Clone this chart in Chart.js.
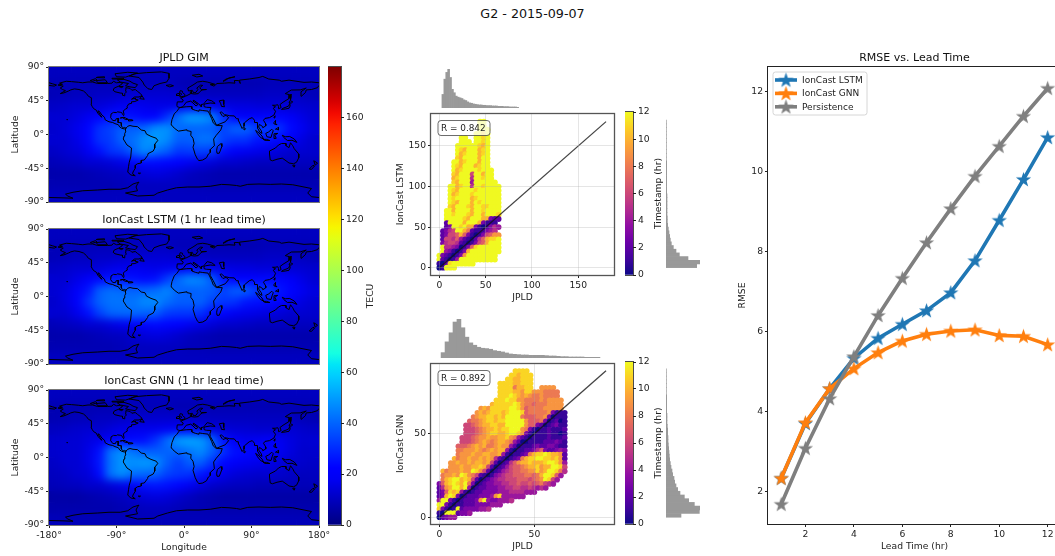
<!DOCTYPE html>
<html>
<head>
<meta charset="utf-8">
<script src="https://cdn.jsdelivr.net/npm/chart.js@4/dist/chart.umd.js"></script>
<style>
  html, body { margin: 0; padding: 0; background: #fff; overflow: hidden; width: 1055px; height: 556px; }
  canvas { position: absolute; }
  #figTitle { position: absolute; left: 0; width: 1065px; top: 6px; text-align: center; font: 12.7px "DejaVu Sans"; color: #111; }
</style>
</head>
<body>
<div id="figTitle">G2 - 2015-09-07</div>
<script>
// ---- data ----

// TEC maps: rows run north to south (lat 82.5 .. -82.5), columns west to east (lon -172.5 .. 172.5)
const gridLats = [82.5, 67.5, 52.5, 37.5, 22.5, 7.5, -7.5, -22.5, -37.5, -52.5, -67.5, -82.5];
const gridLons = [-172.5, -157.5, -142.5, -127.5, -112.5, -97.5, -82.5, -67.5, -52.5, -37.5, -22.5, -7.5, 7.5, 22.5, 37.5, 52.5, 67.5, 82.5, 97.5, 112.5, 127.5, 142.5, 157.5, 172.5];

const gimRows = [
  [10,10,10,10,10,10,10,10,10,10,10,10,10,10,10,10,10,10,10,10,10,10,10,10],
  [9,9,9,9,9,9,9,10,10,10,10,9,8,8,8,8,8,8,8,9,9,9,9,9],
  [9,9,10,10,11,11,12,13,13,13,13,12,11,10,10,10,10,10,10,11,11,11,10,9],
  [11,12,13,13,14,16,18,18,17,16,16,17,18,18,17,16,15,15,14,14,14,13,13,12],
  [13,13,15,18,23,26,26,25,23,23,31,42,50,50,46,31,23,19,22,23,23,19,16,13],
  [12,14,17,23,31,34,39,39,41,48,48,41,40,40,39,34,40,40,34,33,31,24,18,14],
  [13,13,16,23,31,33,40,42,48,50,47,39,39,43,43,34,31,31,26,25,23,19,15,12],
  [11,13,14,18,25,31,33,40,47,43,39,32,33,34,33,25,19,18,17,16,14,12,13,12],
  [9,10,11,13,13,14,16,19,24,24,23,22,18,16,14,12,12,11,10,10,10,10,10,10],
  [7,7,7,8,9,10,10,12,14,15,14,12,10,9,8,7,7,7,7,7,7,7,7,7],
  [8,8,8,8,8,8,9,10,10,10,10,10,9,9,8,8,8,8,8,8,8,8,8,8],
  [10,10,10,10,10,10,10,10,10,10,10,10,10,10,10,10,10,10,10,10,10,10,10,10]
];
const lstmRows = [
  [10,10,10,10,10,10,10,10,10,10,10,10,10,10,10,10,10,10,10,10,10,10,10,10],
  [9,9,9,9,9,9,10,10,10,10,10,9,9,8,8,8,8,8,8,9,9,9,9,9],
  [9,9,10,10,11,11,12,13,13,13,13,12,11,11,10,10,10,10,10,11,11,11,10,9],
  [11,12,13,13,14,16,17,18,17,16,17,18,19,18,17,16,15,15,14,14,14,13,13,12],
  [13,13,16,19,24,26,26,25,24,25,33,41,47,46,39,26,23,22,23,24,23,19,16,13],
  [13,15,19,26,39,42,41,40,40,42,46,40,39,40,39,34,39,39,33,32,26,23,18,15],
  [12,15,19,31,40,43,43,43,47,47,42,39,39,40,34,32,31,26,25,24,22,18,15,13],
  [13,13,17,25,34,40,41,41,40,39,33,32,32,31,25,23,18,17,16,15,14,12,13,12],
  [9,10,11,13,13,15,17,19,23,24,23,22,18,16,14,12,12,11,10,10,10,10,10,10],
  [7,7,7,8,9,10,10,12,14,15,14,12,10,9,8,7,7,7,7,7,7,7,7,7],
  [8,8,8,8,8,8,9,10,10,10,10,10,9,9,8,8,8,8,8,8,8,8,8,8],
  [10,10,10,10,10,10,10,10,10,10,10,10,10,10,10,10,10,10,10,10,10,10,10,10]
];
const gnnRows = [
  [10,10,10,10,10,10,10,10,10,10,10,10,10,10,10,10,10,10,10,10,10,10,10,10],
  [8,8,8,8,8,8,9,9,9,9,9,8,8,8,8,8,8,8,8,8,8,8,8,8],
  [8,8,9,9,10,10,11,12,12,12,12,12,11,10,10,10,10,10,10,10,10,10,9,8],
  [10,11,12,13,12,14,16,17,17,17,18,19,19,17,15,14,13,13,12,12,12,13,12,11],
  [12,13,13,15,17,19,23,24,25,31,41,50,52,50,41,26,19,17,18,19,18,15,13,13],
  [12,13,13,16,25,43,48,43,39,39,40,40,43,47,40,31,25,24,23,22,18,15,12,12],
  [11,13,13,16,26,43,49,48,50,48,39,33,39,39,31,23,19,18,17,16,14,12,12,11],
  [10,11,13,14,24,43,48,42,41,40,34,32,31,26,23,17,14,13,12,13,12,11,10,10],
  [9,10,10,12,12,14,16,19,25,26,25,23,18,15,12,11,10,10,9,9,9,9,9,9],
  [6,6,6,7,8,9,10,12,14,15,14,12,10,8,7,6,6,6,6,6,6,6,6,6],
  [7,7,7,7,7,7,8,9,10,10,10,9,8,8,7,7,7,7,7,7,7,7,7,7],
  [9,9,9,9,9,9,9,9,9,9,9,9,9,9,9,9,9,9,9,9,9,9,9,9]
];

// coastlines as [lon, lat] polylines
const coastlines = [
  [[-168,66],[-162,67],[-166,68.5],[-157,71],[-150,70.5],[-141,69.7],[-135,69],[-128,70],[-122,70],[-115,68],[-108,68],[-102,68],[-96,68.5],[-94,71],[-90,69],[-85,69.5],[-82,68],[-87,64.5],[-93,62],[-94.5,59],[-92,57],[-85,55.3],[-82,55],[-82,52.5],[-79,51.5],[-79,54.5],[-77,56.5],[-78,59],[-77.5,62.5],[-72,61.5],[-69.5,59],[-65,60],[-62,57.5],[-58,54.5],[-56,52],[-60,50],[-66,50],[-70,47],[-65,48.5],[-65,47],[-61,46],[-65.5,44],[-70,43.5],[-70,41.7],[-74,40.5],[-76,37],[-75.5,35.3],[-78,33.8],[-81,31.5],[-80,27],[-80.5,25.2],[-82,27],[-83,29.2],[-85,29.7],[-89,30.2],[-90,29.2],[-94,29.5],[-97.2,27.5],[-97.8,22.5],[-95,18.7],[-91.5,18.5],[-90.5,21],[-87,21.5],[-88,16],[-84,15.8],[-83.5,11],[-81,9],[-79.5,9.5],[-77.3,8.5],[-78,7.3],[-80,7.5],[-83,8.3],[-85.7,10],[-87.5,13],[-92,14.5],[-95,16],[-100,17],[-105,19.5],[-106,23],[-109.5,26],[-113,31],[-114.8,31.5],[-112,26.5],[-109.5,23],[-112,25],[-115,28.5],[-117,32.5],[-120.5,34.5],[-122.5,37.5],[-124,40.5],[-124,46],[-123,49],[-127.5,51],[-130,54.5],[-134,58],[-140,60],[-146,60.8],[-151,59.5],[-154,58],[-160,55.5],[-165,54.5],[-158,58.5],[-162,60],[-165,62],[-161,64.5],[-168,66]],
  [[-73,78],[-66,81],[-50,82.5],[-30,83.5],[-20,81.5],[-20,75],[-23,70],[-32,68],[-40,65],[-43,60],[-48,61],[-53,66],[-55,70],[-60,76],[-73,78]],
  [[-80,73.5],[-72,71],[-68,68.5],[-62,66.5],[-65,62.5],[-72,63.5],[-78,65],[-74,68],[-85,70],[-89,73],[-80,73.5]],
  [[-117,72],[-105,73],[-102,69],[-115,69],[-117,72]],
  [[-90,77],[-78,76.5],[-62,82],[-75,83],[-92,81],[-90,77]],
  [[-125,72],[-118,74.5],[-116,73],[-122,71],[-125,72]],
  [[-96,75],[-80,75],[-82,74],[-95,74],[-96,75]],
  [[-117,76],[-106,75.5],[-106,77],[-115,76.5],[-117,76]],
  [[-87,64],[-81,64],[-83,62.5],[-87,64]],
  [[-59,47.8],[-56,51.5],[-53,47],[-59,47.8]],
  [[-85,22],[-80,23],[-74.3,20.2],[-78,20],[-82,22.5],[-85,22]],
  [[-74,19.8],[-69,19.5],[-68.5,18.5],[-74,18],[-74,19.8]],
  [[-156,20.5],[-155,19.2],[-156,19.5],[-156,20.5]],
  [[-77.3,8.5],[-75,11],[-72,12],[-68,11],[-62,10.5],[-57,6],[-52,5],[-50,0.5],[-44,-2.5],[-37,-5],[-35,-8],[-39,-13],[-39,-18],[-41,-22],[-48,-25.5],[-48.5,-28],[-53,-34],[-57,-34.5],[-57,-38],[-62,-39],[-65,-41],[-65,-45],[-68,-50],[-68.5,-52.5],[-65,-55],[-71,-54],[-75,-50],[-74,-43],[-73,-37],[-71,-30],[-70,-18],[-76,-14],[-81,-6],[-80,-2],[-79,1.5],[-77.5,4],[-78,7.3],[-77.3,8.5]],
  [[-61,-51.5],[-58,-51.5],[-59,-52.3],[-61,-51.5]],
  [[-6,35.8],[3,37],[10,37.3],[10.5,34],[15,32.3],[20,31],[20,32.8],[25,32],[32,31.2],[34,27.5],[37,21],[39,15.5],[43,12],[51,11.8],[49,6],[43,-1],[39.5,-6],[40.5,-15],[35,-20],[35,-24],[32.5,-26],[30,-31],[25,-34],[20,-34.8],[18,-33],[15,-27],[12,-17],[13.5,-12],[12,-5],[9,-1],[9.5,4],[5,5],[4,6.3],[-4,5],[-7.5,4.5],[-13,8.5],[-16.5,12.5],[-17,15],[-16,20],[-13,27.5],[-9.5,31],[-6,35.8]],
  [[49.5,-12],[50.5,-16],[47,-25],[44,-25],[43.5,-21],[44.5,-16],[49.5,-12]],
  [[-9,37],[-9.5,39],[-9,43.5],[-2,43.5],[-1,46],[-4.5,48.5],[2,51],[4,52],[8,54],[8.5,57],[10.5,57.5],[10,54.5],[14,54],[19,54.5],[21,57],[24,59.3],[30,60],[23,60],[21,62.5],[25,65.5],[22,65.8],[17,62],[18.5,60],[16,56.3],[13,55.5],[11,59],[6,58],[5,62],[12,66],[18,70],[25,71],[31,70],[41,67],[35,66.5],[40,64.5],[44,68],[54,68.5],[60,69],[68,68.5],[67,72],[73,72],[75,68],[74,72.5],[87,74],[100,76],[105,77.5],[113,74],[127,72.5],[130,71],[140,72.5],[160,69.5],[170,70],[180,69]],
  [[-180,69],[-175,67.5],[-170,66],[-173,64.5],[-180,65.5]],
  [[180,65.5],[178,62.5],[170,60],[163,59.5],[162,56],[156.5,51],[156,57],[163,62],[155,59.5],[143,59.3],[135,54.5],[141,53],[140,48],[132,43],[128,40],[129.5,36],[126.5,34.5],[126,37.5],[125,39.7],[121.5,39],[118,39],[122,37],[119,35],[122,31],[120,26],[114,22.5],[108,21.5],[106,19],[109,14],[109,11.5],[105,9],[105,10.5],[100.5,13.5],[99.5,10],[103,5],[104,1.5],[101,3],[98.5,8],[98,16],[94.5,16],[94,19],[91,22.5],[87,21],[80.5,15.5],[80,11],[77.5,8],[73,18],[72.5,21],[70,21],[67,24.8],[61,25],[57,26],[54,26.5],[50,30],[48,29.5],[51,25],[52,24],[56,25.5],[59.5,22.5],[55,17],[45,13],[43,13],[39,21],[35,28],[34.5,31.5],[36,36],[30,36.3],[27,37],[26.5,40],[29,41],[35,42],[41.5,41.5],[37,45],[31,46.5],[28,43],[26,40.5],[23,40],[23,37],[19.5,41],[13,45.5],[12.5,44],[18.5,40],[16,38],[12,42],[9,44.5],[3,43],[0,39],[-2,36.8],[-5.5,36],[-9,37]],
  [[47,45],[53,46],[53,40],[54,37],[50,37.5],[49,41],[47,45]],
  [[-5.5,50],[1,51.2],[1.5,53],[-2,56],[-2,57.7],[-5,58.5],[-6,56],[-3,54],[-5,52],[-5.5,50]],
  [[-10,52],[-6,52],[-6,55],[-10,54],[-10,52]],
  [[-24,65.5],[-18,66.3],[-14,65],[-19,63.5],[-24,65.5]],
  [[11,79],[20,80.3],[25,78],[17,76.7],[11,79]],
  [[52,71],[56,74],[68,77],[60,75.5],[55,72],[52,71]],
  [[130,33.5],[135,34],[140,35],[141.5,38],[141,41.3],[139.5,38],[136,36.5],[132,35],[130,33.5]],
  [[140,42],[141.5,45.3],[145,43.5],[143,42],[140,42]],
  [[142,46],[143,50],[143,54],[142,53],[142,46]],
  [[120,23],[121.5,25],[121,22],[120,23]],
  [[120,16],[122,18.5],[122,15],[124,13],[120.5,14],[120,16]],
  [[122,7],[126,9.5],[126,6],[123.5,7],[122,7]],
  [[80,9.5],[82,7.5],[80.5,6],[80,9.5]],
  [[95.5,5.5],[100,2],[104,-2],[106,-6],[102,-4],[98,1],[95.5,5.5]],
  [[105.5,-6.5],[110,-6.5],[114.5,-8],[108,-7.8],[105.5,-6.5]],
  [[109,1.5],[113,3.5],[117,7],[119,5],[117.5,1],[116,-4],[110.5,-3],[109,1.5]],
  [[120,1],[125,1.5],[121,-1],[123,-5],[120,-5.5],[120,1]],
  [[131,-1],[135,-3],[141,-2.7],[147,-6],[150.5,-10.5],[144,-7.7],[138,-8],[133,-4],[131,-1]],
  [[114,-22],[122,-18],[126,-14],[130,-12],[136,-12],[136,-15],[140,-17.5],[142,-11],[145,-15],[147,-19],[153,-26],[153,-31],[150,-37],[146,-39],[140,-38],[136,-35],[131,-31.5],[124,-33],[118,-35],[115,-34],[114,-26],[114,-22]],
  [[145,-41],[148,-41],[147,-43.5],[145.5,-42.5],[145,-41]],
  [[173,-35],[178,-38],[175,-41],[174,-38],[173,-35]],
  [[172,-41],[174,-42],[170,-46.5],[167,-46],[172,-41]],
  [[-180,-84],[-160,-84.5],[-148,-85],[-155,-82],[-158,-79.5],[-148,-77],[-135,-75],[-115,-74],[-100,-73],[-85,-73],[-75,-71],[-68,-66],[-60,-63.5],[-62,-66],[-64,-70],[-62,-75],[-78,-78],[-62,-82],[-40,-81],[-35,-78],[-22,-74],[-10,-71],[5,-70],[20,-70],[35,-69],[50,-66.5],[60,-67],[70,-68],[75,-69],[85,-66.5],[100,-66],[115,-66.5],[130,-66],[145,-67],[160,-70],[170,-72],[165,-78],[170,-83],[180,-84]]
];

// hexbin cells: one character per cell, base 13 timestamp in hours, '.' = empty cell
const lstmCells = [
  "...........cc","...........cc","...........ccc","..........ccbc","......cc..ccbc","......ccc.ccbc",
  ".....ccccccbac",".....cbacccabc",".....cabcccabc",".....baccccacc","....ccabcccacc","....cbacccabcc",
  "....cabccccbccc","....baccc6ccacc","....abccc5ccbcc","....baccc4cccccc","...ccabcc5ccbcccc","...cbaccccbcccccc",
  "...cabcccbccccccc","...cbccccabcccccc","...cbacccacbccccc","...bacccbaccbbccc","..ccaccccaccbcccc","..ccbcccbaccacccb",
  "..cccccbacccaa322","..2ccccaccca3111","..23ccbcaa3101354",".2356cca82111345",".23667a7310136799",".266574210257abbc",
  ".356652101367accc",".c55430137bcccccc",".c431013acccccccc","c3210139cccccccc","c21014cccccccccc","102bcccccc","01ccc"
];
const gnnCells = [
  "....................bbbb","...................bbabbb","..................bbaabbb","................bbbbaabbb",
  "................bbbb8aabb..9999","................bbbbaa9bb9998888","................bbbcba9a98898888","...............bbbcbb998888989999",
  "..............abbbbbcb98878889999","...........9a9bbbbbccb97888899999","..........9a9abbbabcccb78888893111",".........89aabbabacccc877788930111",
  "........7889abbabbccccc97778301201",".......66789aabbaaccccc97732012311",".......666789aababbccc983101121112",".......666789abbaabccb931011121101",
  "......6667899a99aab984210111121112","......666789a989aa9842001111222321",".....77789a9a889a99420111232233211",".....88999a989a9aa4101122357322343",
  ".....8999a99aa99a41011238abbcbaa92","....a899a99a9a952101238abbccbbab92","...99a99a9aa9a62012579aabaaabccb94","...999a99aaba62012467789aab9aaccb6",
  ".a8999a99cb962012456778899b9accb85",".899a9cb9862101345667778878accb74",".8abccaba6201234556667776789cb64","37abcbac83012334455667667678654",
  "259accac401223334455665565454","237bab41012233334445555444","23acb30122233349b444444","4cc310122239c4334445",
  "cc310112223333444","b3101c23333445","10ccc2334","02344"
];

// marginal histograms (40 bins each, counts in arbitrary units)
const lstmTopHist = [40,85,105,115,90,55,45,35,32,30,28,24,22,18,15,14,12,11,10,9,9,8,8,7,7,7,6,6,6,5,5,5,4,4,4,3,3,3,3,2];
const lstmSideHist = [92,102,66,40,30,22,16,13,11,9,7,5,4,4,3,3,3,3,3,3,2,2,2,2,2,2,2,2,2,1,1,1,1,1,1,1,1,1,1,1];
const gnnTopHist = [16,48,75,107,116,90,62,45,38,32,29,28,26,22,20,18,15,12,11,10,9,9,8,8,8,8,7,6,6,5,4,4,3,3,3,3,2,2,2,2];
const gnnSideHist = [45,100,102,85,68,55,42,35,30,26,24,20,18,15,13,11,10,9,8,7,6,6,5,5,4,3,3,3,2,2,2,2,2,1,1,1,1,1,1,1];

// RMSE panel
const leadTimes = [1,2,3,4,5,6,7,8,9,10,11,12];
const rmseLstm = [2.33,3.7,4.57,5.33,5.83,6.18,6.52,6.97,7.77,8.78,9.8,10.85];
const rmseGnn = [2.33,3.72,4.57,5.07,5.47,5.76,5.93,6.01,6.04,5.9,5.88,5.67];
const rmsePersistence = [1.68,3.08,4.32,5.37,6.4,7.33,8.22,9.07,9.88,10.63,11.38,12.08];

// tick labels
const latTicks = [90,45,0,-45,-90];
const lonTicks = [-180,-90,0,90,180];
const tecuTicks = [0,20,40,60,80,100,120,140,160];
const timeTicks = [0,2,4,6,8,10,12];
const lstmScatterTicks = [0,50,100,150];
const gnnScatterTicks = [0,50];
const rmseTicks = [2,4,6,8,10,12];
const leadTicks = [2,4,6,8,10,12];

// ---- colours ----
const FONT = '"DejaVu Sans"';
const TEXT_SIZE = 9.2;
const plasmaStops = ['#0d0887','#41049d','#6a00a8','#8f0da4','#b12a90','#cc4778','#e16462','#f2844b','#fca636','#fcce25','#f0f921'];

function jet(t) {
  const clip = v => Math.max(0, Math.min(1, v));
  const r = t < 0.35 ? 0 : t < 0.66 ? (t - 0.35) / 0.31 : t < 0.89 ? 1 : 1 - (t - 0.89) / 0.11 * 0.5;
  const g = t < 0.125 ? 0 : t < 0.375 ? (t - 0.125) / 0.25 : t < 0.64 ? 1 : 1 - (t - 0.64) / 0.27;
  const b = t < 0.11 ? 0.5 + t / 0.11 * 0.5 : t < 0.34 ? 1 : 1 - (t - 0.34) / 0.31;
  return 'rgb(' + [r, g, b].map(v => Math.round(clip(v) * 255)).join(',') + ')';
}

function plasma(t) {
  const p = Math.max(0, Math.min(1, t)) * 10;
  const i = Math.min(9, Math.floor(p));
  const a = parseInt(plasmaStops[i].slice(1), 16), b = parseInt(plasmaStops[i + 1].slice(1), 16);
  const mix = s => Math.round(((a >> s) & 255) + (((b >> s) & 255) - ((a >> s) & 255)) * (p - i));
  return 'rgb(' + mix(16) + ',' + mix(8) + ',' + mix(0) + ')';
}

Chart.defaults.font.family = FONT;
Chart.defaults.font.size = TEXT_SIZE;
Chart.defaults.color = '#222';
Chart.defaults.animation = false;

// ---- small plugins ----

// box round the axes
const framePlugin = {
  id: 'frame',
  afterDraw(chart, args, opts) {
    const a = chart.chartArea, ctx = chart.ctx;
    ctx.save();
    ctx.strokeStyle = opts.color || '#222';
    ctx.lineWidth = opts.width || 1;
    ctx.strokeRect(Math.round(a.left) - 0.5, Math.round(a.top) - 0.5, Math.round(a.right - a.left) + 1, Math.round(a.bottom - a.top) + 1);
    ctx.restore();
  }
};

// smooths the finished heat cells, before the coastlines go on top
const smoothPlugin = {
  id: 'smooth',
  afterDatasetDraw(chart, args) {
    if (args.index !== 0) return;
    const a = chart.chartArea, ctx = chart.ctx, w = a.right - a.left, h = a.bottom - a.top;
    ctx.save();
    ctx.beginPath();
    ctx.rect(a.left, a.top, w, h);
    ctx.clip();
    ctx.filter = 'blur(4px)';
    ctx.drawImage(chart.canvas, a.left, a.top, w, h, a.left, a.top, w, h);
    ctx.restore();
  }
};

// rotated axis title right of a colour bar
const sideLabelPlugin = {
  id: 'sideLabel',
  afterDraw(chart, args, opts) {
    const ctx = chart.ctx;
    ctx.save();
    ctx.translate(chart.chartArea.right + opts.offset, (chart.chartArea.top + chart.chartArea.bottom) / 2);
    ctx.rotate(-Math.PI / 2);
    ctx.font = TEXT_SIZE + 'px ' + FONT;
    ctx.fillStyle = '#222';
    ctx.textAlign = 'center';
    ctx.textBaseline = 'middle';
    ctx.fillText(opts.text, 0, 0);
    ctx.restore();
  }
};

// "R = ..." box in the corner of a scatter panel
const rBoxPlugin = {
  id: 'rBox',
  afterDraw(chart, args, opts) {
    const a = chart.chartArea, ctx = chart.ctx;
    ctx.save();
    ctx.beginPath();
    ctx.roundRect(a.left + 7, a.top + 7, 52, 15, 3);
    ctx.fillStyle = 'rgba(255,255,255,0.72)';
    ctx.fill();
    ctx.strokeStyle = '#444';
    ctx.lineWidth = 0.8;
    ctx.stroke();
    ctx.font = '8.9px ' + FONT;
    ctx.fillStyle = '#222';
    ctx.textBaseline = 'middle';
    ctx.fillText(opts.text, a.left + 10, a.top + 14.8);
    ctx.restore();
  }
};

// matplotlib style legend: line, star marker, label
const legendPlugin = {
  id: 'rmseLegend',
  afterDraw(chart) {
    const a = chart.chartArea, ctx = chart.ctx;
    const x = a.left + 5, y = a.top + 5;
    ctx.save();
    ctx.beginPath();
    ctx.roundRect(x, y, 94, 43, 2.5);
    ctx.fillStyle = 'rgba(255,255,255,0.8)';
    ctx.fill();
    ctx.strokeStyle = '#ccc';
    ctx.lineWidth = 0.8;
    ctx.stroke();
    ctx.font = '9px ' + FONT;
    ctx.textBaseline = 'middle';
    chart.data.datasets.forEach((ds, i) => {
      const ry = y + 8 + i * 13.4;
      ctx.strokeStyle = ds.borderColor;
      ctx.lineWidth = ds.borderWidth;
      ctx.beginPath();
      ctx.moveTo(x + 2, ry);
      ctx.lineTo(x + 24, ry);
      ctx.stroke();
      ctx.drawImage(ds.pointStyle, x + 13 - ds.pointStyle.width / 2, ry - ds.pointStyle.height / 2);
      ctx.fillStyle = '#222';
      ctx.fillText(ds.label, x + 29, ry + 0.5);
    });
    ctx.restore();
  }
};

// ---- helpers ----

// makes a canvas whose chart area lands on the given rectangle
function addChart(area, margins, config) {
  const m = Object.assign({ left: 0, right: 0, top: 0, bottom: 0 }, margins);
  const canvas = document.createElement('canvas');
  canvas.style.left = (area.x - m.left) + 'px';
  canvas.style.top = (area.y - m.top) + 'px';
  canvas.width = area.w + m.left + m.right;
  canvas.height = area.h + m.top + m.bottom;
  document.body.appendChild(canvas);
  config.options = config.options || {};
  config.options.responsive = false;
  config.options.events = [];
  config.options.layout = { padding: {
    top: m.top - (m.titleBox || 0),
    right: m.axisRight ? 0 : m.right,
    left: 0,
    bottom: m.padBottom || 0
  } };
  config.options.plugins = Object.assign({ legend: { display: false }, tooltip: { enabled: false } }, config.options.plugins);
  return new Chart(canvas, config);
}

function fixedTicks(values) {
  return scale => { scale.ticks = values.map(v => ({ value: v })); };
}

function fixedSize(size) {
  return scale => {
    if (scale.isHorizontal()) scale.height = size; else scale.width = size;
  };
}

function axisTicks(extra) {
  return Object.assign({ padding: 2, autoSkip: false, maxRotation: 0, minRotation: 0 }, extra);
}

function coastPoints() {
  const pts = [];
  coastlines.forEach(line => {
    line.forEach(p => pts.push({ x: p[0], y: p[1] }));
    pts.push({ x: NaN, y: NaN });
  });
  return pts;
}

// one map panel
function drawMap(area, title, rows, showLon) {
  const cells = [], colors = [];
  rows.forEach((row, r) => row.forEach((v, c) => {
    cells.push({ x: gridLons[c], y: gridLats[r] });
    colors.push(jet(v / 180));
  }));
  const margins = { left: 39, right: 14, top: 15, titleBox: 15, bottom: showLon ? 28 : 12, padBottom: showLon ? 0 : 12 };
  addChart(area, margins, {
    type: 'scatter',
    data: {
      datasets: [
        { data: cells, pointStyle: 'rect', pointRadius: 8.4, pointBackgroundColor: colors, pointBorderWidth: 0, order: 2 },
        { data: coastPoints(), showLine: true, borderColor: '#000', borderWidth: 1, pointRadius: 0, spanGaps: false, order: 1 }
      ]
    },
    options: {
      plugins: {
        title: { display: true, text: title, fullSize: false, font: { size: 11, weight: 'normal', lineHeight: '12px' }, padding: { top: 0, bottom: 3 }, color: '#111' },
        frame: { color: '#777', width: 1 }
      },
      scales: {
        x: {
          type: 'linear', min: -180, max: 180, display: showLon,
          afterBuildTicks: fixedTicks(lonTicks), afterFit: fixedSize(showLon ? 28 : 0),
          grid: { drawOnChartArea: false, tickLength: 3, tickColor: '#222' }, border: { display: false },
          ticks: axisTicks({ callback: v => v + '°' }),
          title: { display: showLon, text: 'Longitude', padding: { top: 1, bottom: 0 } }
        },
        y: {
          type: 'linear', min: -90, max: 90,
          afterBuildTicks: fixedTicks(latTicks), afterFit: fixedSize(39),
          grid: { drawOnChartArea: false, tickLength: 3, tickColor: '#222' }, border: { display: false },
          ticks: axisTicks({ callback: v => v + '°' }),
          title: { display: true, text: 'Latitude', padding: 0 }
        }
      }
    },
    plugins: [smoothPlugin, framePlugin]
  });
}

// vertical colour bar as one floating bar filled with the colormap
function drawColorbar(area, vmax, colormap, ticks, label, labelOffset) {
  addChart(area, { right: 40, axisRight: true, top: 12, bottom: 12, padBottom: 12 }, {
    type: 'bar',
    data: {
      labels: [''],
      datasets: [{
        data: [[0, vmax]],
        barPercentage: 1,
        categoryPercentage: 1,
        backgroundColor(ctx) {
          const a = ctx.chart.chartArea;
          if (!a) return '#000';
          const g = ctx.chart.ctx.createLinearGradient(0, a.bottom, 0, a.top);
          for (let i = 0; i <= 40; i++) g.addColorStop(i / 40, colormap(i / 40));
          return g;
        }
      }]
    },
    options: {
      plugins: { frame: { color: '#222', width: 0.8 }, sideLabel: { text: label, offset: labelOffset } },
      scales: {
        x: { display: false },
        y: {
          position: 'right', min: 0, max: vmax,
          afterBuildTicks: fixedTicks(ticks), afterFit: fixedSize(40),
          grid: { drawOnChartArea: false, tickLength: 3, tickColor: '#222' }, border: { display: false },
          ticks: axisTicks({ })
        }
      }
    },
    plugins: [framePlugin, sideLabelPlugin]
  });
}

// hexbin-like scatter panel
function drawScatter(area, rows, topY, stepY, stepX, xRange, yRange, ticks, lineEnd, rText, yLabel, radius) {
  const cells = [], colors = [];
  rows.forEach((row, r) => {
    row.split('').forEach((ch, c) => {
      if (ch === '.') return;
      cells.push({ x: c * stepX, y: topY - r * stepY });
      colors.push(plasma(parseInt(ch, 13) / 12));
    });
  });
  addChart(area, { left: 36, right: 6, top: 6, bottom: 28 }, {
    type: 'scatter',
    data: {
      datasets: [
        { data: [{ x: 0, y: 0 }, { x: lineEnd, y: lineEnd }], showLine: true, borderColor: 'rgba(20,20,20,0.8)', borderWidth: 1.3, pointRadius: 0, order: 1 },
        { data: cells, pointRadius: radius, pointBackgroundColor: colors, pointBorderWidth: 0, order: 2 }
      ]
    },
    options: {
      plugins: { frame: { color: '#555', width: 1.3 }, rBox: { text: rText } },
      scales: {
        x: {
          type: 'linear', min: xRange[0], max: xRange[1],
          afterBuildTicks: fixedTicks(ticks), afterFit: fixedSize(28),
          grid: { color: 'rgba(170,170,170,0.3)', z: 1, tickLength: 3, tickColor: '#222' }, border: { display: false },
          ticks: axisTicks({ }),
          title: { display: true, text: 'JPLD', padding: { top: 1, bottom: 0 } }
        },
        y: {
          type: 'linear', min: yRange[0], max: yRange[1],
          afterBuildTicks: fixedTicks(ticks), afterFit: fixedSize(36),
          grid: { color: 'rgba(170,170,170,0.3)', z: 1, tickLength: 3, tickColor: '#222' }, border: { display: false },
          ticks: axisTicks({ }),
          title: { display: true, text: yLabel, padding: 0 }
        }
      }
    },
    plugins: [framePlugin, rBoxPlugin]
  });
}

// marginal histogram on top of a scatter panel
function drawTopHist(area, counts, start, binWidth, xRange) {
  addChart(area, {}, {
    type: 'bar',
    data: { datasets: [{
      data: counts.map((c, i) => ({ x: start + binWidth * (i + 0.5), y: c })),
      backgroundColor: '#999', barPercentage: 1, categoryPercentage: 1
    }] },
    options: { scales: {
      x: { type: 'linear', offset: false, display: false, min: xRange[0], max: xRange[1] },
      y: { display: false, min: 0, max: Math.max.apply(null, counts) }
    } }
  });
}

// marginal histogram right of a scatter panel
function drawSideHist(area, counts, start, binWidth, yRange) {
  addChart(area, {}, {
    type: 'bar',
    data: { datasets: [{
      data: counts.map((c, i) => ({ x: c, y: start + binWidth * (i + 0.5) })),
      backgroundColor: '#999', barPercentage: 1, categoryPercentage: 1
    }] },
    options: { indexAxis: 'y', scales: {
      x: { type: 'linear', display: false, min: 0, max: Math.max.apply(null, counts) },
      y: { type: 'linear', offset: false, display: false, min: yRange[0], max: yRange[1] }
    } }
  });
}

// filled five pointed star marker
function starMarker(color) {
  const c = document.createElement('canvas');
  c.width = 17; c.height = 17;
  const ctx = c.getContext('2d');
  ctx.beginPath();
  for (let i = 0; i < 10; i++) {
    const r = i % 2 ? 3.2 : 8;
    const ang = -Math.PI / 2 + i * Math.PI / 5;
    const px = 8.5 + r * Math.cos(ang), py = 9 + r * Math.sin(ang);
    if (i === 0) ctx.moveTo(px, py); else ctx.lineTo(px, py);
  }
  ctx.closePath();
  ctx.fillStyle = color;
  ctx.fill();
  return c;
}

// RMSE line panel
function drawRmse() {
  const series = [
    { label: 'IonCast LSTM', values: rmseLstm, color: '#1f77b4', order: 3 },
    { label: 'IonCast GNN', values: rmseGnn, color: '#ff7f0e', order: 2 },
    { label: 'Persistence', values: rmsePersistence, color: '#7f7f7f', order: 1 }
  ];
  addChart({ x: 768, y: 67, w: 293, h: 457 }, { left: 31, right: 14, top: 15, titleBox: 15, bottom: 28 }, {
    type: 'line',
    data: {
      labels: leadTimes,
      datasets: series.map(s => ({
        label: s.label,
        data: s.values.map((v, i) => ({ x: leadTimes[i], y: v })),
        borderColor: s.color,
        backgroundColor: s.color,
        borderWidth: 3.6,
        pointStyle: starMarker(s.color),
        order: s.order
      }))
    },
    options: {
      plugins: {
        title: { display: true, text: 'RMSE vs. Lead Time', fullSize: false, font: { size: 11, weight: 'normal', lineHeight: '12px' }, padding: { top: 0, bottom: 3 }, color: '#111' },
        frame: { color: '#222', width: 1 }
      },
      scales: {
        x: {
          type: 'linear', min: 0.455, max: 12.55,
          afterBuildTicks: fixedTicks(leadTicks), afterFit: fixedSize(28),
          grid: { drawOnChartArea: false, tickLength: 3, tickColor: '#222' }, border: { display: false },
          ticks: axisTicks({ }),
          title: { display: true, text: 'Lead Time (hr)', padding: { top: 1, bottom: 0 } }
        },
        y: {
          type: 'linear', min: 1.185, max: 12.61,
          afterBuildTicks: fixedTicks(rmseTicks), afterFit: fixedSize(31),
          grid: { drawOnChartArea: false, tickLength: 3, tickColor: '#222' }, border: { display: false },
          ticks: axisTicks({ }),
          title: { display: true, text: 'RMSE', padding: 0 }
        }
      }
    },
    plugins: [framePlugin, legendPlugin]
  });
}

// ---- build the figure ----
drawMap({ x: 49, y: 67, w: 270, h: 135 }, 'JPLD GIM', gimRows, false);
drawMap({ x: 49, y: 229, w: 270, h: 135 }, 'IonCast LSTM (1 hr lead time)', lstmRows, false);
drawMap({ x: 49, y: 390, w: 270, h: 135 }, 'IonCast GNN (1 hr lead time)', gnnRows, true);
drawColorbar({ x: 328, y: 67, w: 13, h: 458 }, 180, jet, tecuTicks, 'TECU', 30);

const lstmX = [-9, 188.6], lstmY = [-9, 190];
const gnnX = [-4.4, 91.9], gnnY = [-4, 92];
drawScatter({ x: 431, y: 112, w: 183, h: 163 }, lstmCells, 180, 5, 4, lstmX, lstmY, lstmScatterTicks, 180, 'R = 0.842', 'IonCast LSTM', 2.9);
drawScatter({ x: 431, y: 362, w: 183, h: 162 }, gnnCells, 87.5, 2.5, 2, gnnX, gnnY, gnnScatterTicks, 87.7, 'R = 0.892', 'IonCast GNN', 2.8);
drawColorbar({ x: 625, y: 112, w: 8, h: 163 }, 12, plasma, timeTicks, 'Timestamp (hr)', 26);
drawColorbar({ x: 625, y: 362, w: 8, h: 162 }, 12, plasma, timeTicks, 'Timestamp (hr)', 26);

drawTopHist({ x: 431, y: 69, w: 183, h: 39 }, lstmTopHist, 2.8, 2.07, lstmX);
drawSideHist({ x: 666, y: 112, w: 34, h: 163 }, lstmSideHist, 0, 4.5, lstmY);
drawTopHist({ x: 431, y: 319, w: 183, h: 39 }, gnnTopHist, 0.9, 2.09, gnnX);
drawSideHist({ x: 666, y: 362, w: 34, h: 162 }, gnnSideHist, 0, 2.2, gnnY);

drawRmse();
</script>
</body>
</html>
